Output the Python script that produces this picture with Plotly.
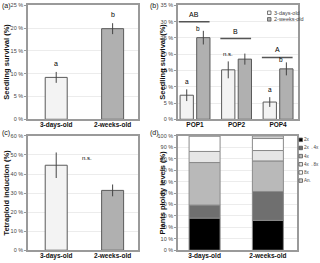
import plotly.graph_objects as go

# ---------------- data ----------------
ages = ["3-days-old", "2-weeks-old"]
surv_a = [9.2, 19.9]
surv_a_err = [1.2, 1.2]
letters_a = ["a", "b"]

pops = ["POP1", "POP2", "POP4"]
surv_b_3d = [7.4, 15.2, 5.3]
surv_b_3d_err = [1.8, 2.6, 1.5]
surv_b_2w = [25.1, 18.5, 15.5]
surv_b_2w_err = [2.1, 1.7, 2.0]
letters_b_3d = ["a", "n.s.", "a"]
letters_b_2w = ["b", "", "b"]
group_letters = ["AB", "B", "A"]
group_line_y = [30, 24.8, 19]

tetra = [44.6, 31.4]
tetra_err = [6.7, 3.1]
tetra_note = "n.s."

ploidy_levels = ["2x", "2x\u21924x", "4x", "4x\u21928x", "8x", "An."]
ploidy_3d = [28.1, 11.4, 37.2, 9.7, 13.6, 0.0]
ploidy_2w = [26.1, 25.3, 26.7, 9.1, 10.5, 2.3]

# ---------------- style ----------------
W, H = 320, 263
FONT = "Arial, Liberation Sans, sans-serif"
C3D, C2W = "#f3f3f3", "#b0b0b0"
EDGE = "#5a5a5a"
PLOIDY_COLORS = ["#000000", "#6f6f6f", "#b9b9b9", "#e6e6e6", "#ffffff", "#cfcfcf"]

def px(x0, x1, y0, y1):
    """pixel box -> paper domains"""
    return [x0 / W, x1 / W], [1 - y1 / H, 1 - y0 / H]

dom = {
    1: px(28, 138, 2.5, 119),
    2: px(178, 298, 2.5, 119),
    3: px(28, 138, 136, 253),
    4: px(178, 297, 136, 253),
}

fig = go.Figure()
err_style = dict(type="data", color="#444", thickness=1, width=0)

# (a)
fig.add_trace(go.Bar(x=ages, y=surv_a, xaxis="x", yaxis="y", width=0.39,
                     marker=dict(color=[C3D, C2W], line=dict(color=EDGE, width=1)),
                     error_y=dict(array=surv_a_err, **err_style), showlegend=False))
# (b)
fig.add_trace(go.Bar(x=pops, y=surv_b_3d, xaxis="x2", yaxis="y2", width=0.32, offset=-0.36,
                     marker=dict(color=C3D, line=dict(color=EDGE, width=1)),
                     error_y=dict(array=surv_b_3d_err, **err_style), showlegend=False))
fig.add_trace(go.Bar(x=pops, y=surv_b_2w, xaxis="x2", yaxis="y2", width=0.32, offset=0.04,
                     marker=dict(color=C2W, line=dict(color=EDGE, width=1)),
                     error_y=dict(array=surv_b_2w_err, **err_style), showlegend=False))
# (c)
fig.add_trace(go.Bar(x=ages, y=tetra, xaxis="x3", yaxis="y3", width=0.39,
                     marker=dict(color=[C3D, C2W], line=dict(color=EDGE, width=1)),
                     error_y=dict(array=tetra_err, **err_style), showlegend=False))
# (d) stacked via base
base3, base2 = 0.0, 0.0
for lvl, v3, v2, col in zip(ploidy_levels, ploidy_3d, ploidy_2w, PLOIDY_COLORS):
    fig.add_trace(go.Bar(x=ages, y=[v3, v2], base=[base3, base2], xaxis="x4", yaxis="y4",
                         width=0.49, name=lvl,
                         marker=dict(color=col, line=dict(color="#8a8a8a", width=1)),
                         showlegend=False))
    base3 += v3
    base2 += v2

axis_common = dict(showline=True, linecolor="#9a9a9a", linewidth=1.5, mirror=True,
                   zeroline=False, fixedrange=True)
yfont = dict(family=FONT, size=5.5, color="#444")
xfont = dict(family=FONT, size=6.5, color="#111", weight="bold")

def yax(i, rng, dt):
    return dict(domain=dom[i][1], range=rng, dtick=dt, ticksuffix=" %",
                tickfont=yfont, showgrid=True, gridcolor="#ececec", gridwidth=1,
                ticks="outside", ticklen=2, tickcolor="#999",
                anchor="x" if i == 1 else f"x{i}", **axis_common)

def xax(i, rng):
    return dict(domain=dom[i][0], range=rng, type="category", tickfont=xfont,
                showgrid=False, ticks="", ticklabelstandoff=-2,
                anchor="y" if i == 1 else f"y{i}", **axis_common)

fig.update_layout(
    width=W, height=H, margin=dict(l=0, r=0, t=0, b=0),
    paper_bgcolor="white", plot_bgcolor="white", barmode="overlay",
    font=dict(family=FONT, color="#111"),
    xaxis=xax(1, [-0.5, 1.45]), yaxis=yax(1, [0, 25], 5),
    xaxis2=xax(2, [-0.41, 2.48]), yaxis2=yax(2, [0, 35], 5),
    xaxis3=xax(3, [-0.5, 1.45]), yaxis3=yax(3, [0, 60], 10),
    xaxis4=xax(4, [-0.42, 1.46]), yaxis4=yax(4, [0, 100], 10),
)

ann = []
def letter(text, xref, yref, x, y, xshift=0, yshift=3, size=7):
    ann.append(dict(text=text, xref=xref, yref=yref, x=x, y=y, xshift=xshift, yshift=yshift,
                    showarrow=False, yanchor="bottom",
                    font=dict(size=size, color="black", family=FONT)))

for cat, v, e, t in zip(ages, surv_a, surv_a_err, letters_a):
    letter(t, "x", "y", cat, v + e)
for k, (v, e, t) in enumerate(zip(surv_b_3d, surv_b_3d_err, letters_b_3d)):
    letter(t, "x2", "y2", k - 0.2, v + e, yshift=2, size=6.5 if t != "n.s." else 6)
for k, (v, e, t) in enumerate(zip(surv_b_2w, surv_b_2w_err, letters_b_2w)):
    if t:
        letter(t, "x2", "y2", k + 0.2, v + e, xshift=-5, yshift=-3, size=6.5)
for k, (t, ly) in enumerate(zip(group_letters, group_line_y)):
    fig.add_shape(type="line", xref="x2", yref="y2", x0=k - 0.39, x1=k + 0.35, y0=ly, y1=ly,
                  line=dict(color="#555", width=1.5))
    letter(t, "x2", "y2", k - 0.02, ly, yshift=2, size=7)
letter(tetra_note, "x3", "y3", 0.55, 46, yshift=0, size=6)

# panel labels and y titles
for t, x, y in [("(a)", 0, 3), ("(b)", 148, 3), ("(c)", 0, 133), ("(d)", 148, 133)]:
    ann.append(dict(text=t, xref="paper", yref="paper", x=x / W, y=1 - y / H, showarrow=False,
                    xanchor="left", yanchor="middle", font=dict(size=7, color="#111", family=FONT)))
for t, x, yc in [("Seedling survival (%)", 7, 60), ("Seedling survival (%)", 163, 60),
                 ("Tetraploid induction (%)", 7, 194), ("Plants ploidy levels (%)", 163, 194)]:
    ann.append(dict(text=f"<b>{t}</b>", xref="paper", yref="paper", x=x / W, y=1 - yc / H,
                    showarrow=False, textangle=-90, xanchor="center", yanchor="middle",
                    font=dict(size=7.5, color="#111", family=FONT)))

# legend for (b)
for i, (lab, col) in enumerate(zip(ages, [C3D, C2W])):
    yy = 10 + i * 6.7
    fig.add_shape(type="rect", xref="paper", yref="paper",
                  x0=267.5 / W, x1=271 / W, y0=1 - (yy + 1.8) / H, y1=1 - (yy - 1.8) / H,
                  fillcolor=col, line=dict(color="#555", width=0.8))
    ann.append(dict(text=lab, xref="paper", yref="paper", x=272 / W, y=1 - yy / H, showarrow=False,
                    xanchor="left", yanchor="middle", font=dict(size=5.5, color="#444", family=FONT)))
# legend for (d)
for i, (lab, col) in enumerate(zip(ploidy_levels, PLOIDY_COLORS)):
    yy = 140 + i * 8.35
    fig.add_shape(type="rect", xref="paper", yref="paper",
                  x0=299 / W, x1=302.5 / W, y0=1 - (yy + 1.8) / H, y1=1 - (yy - 1.8) / H,
                  fillcolor=col, line=dict(color="#555", width=0.8))
    ann.append(dict(text=lab, xref="paper", yref="paper", x=302.5 / W, y=1 - yy / H,
                    showarrow=False, borderpad=0, xanchor="left", yanchor="middle",
                    font=dict(size=4.6, color="#444", family=FONT)))

fig.update_layout(annotations=ann)
fig.write_html("out.html", config={"displayModeBar": False},
               post_script="document.body.style.margin='0';document.body.style.overflow='hidden';")
